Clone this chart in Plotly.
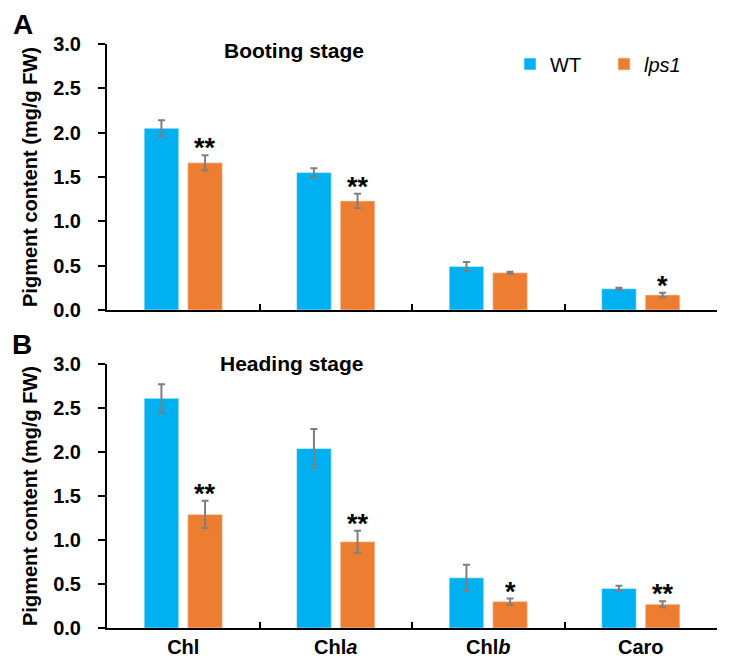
import plotly.graph_objects as go
from plotly.subplots import make_subplots

categories = ["Chl", "Chla", "Chlb", "Caro"]
tick_labels = ["<b>Chl</b>", "<b>Chl<i>a</i></b>", "<b>Chl<i>b</i></b>", "<b>Caro</b>"]

# Booting stage (panel A)
boot_wt = [2.05, 1.55, 0.49, 0.24]
boot_wt_err = [0.09, 0.05, 0.05, 0.01]
boot_lps1 = [1.66, 1.23, 0.42, 0.17]
boot_lps1_err = [0.085, 0.08, 0.01, 0.025]
boot_sig = ["**", "**", "", "*"]

# Heading stage (panel B)
head_wt = [2.61, 2.04, 0.57, 0.45]
head_wt_err = [0.16, 0.22, 0.15, 0.03]
head_lps1 = [1.29, 0.98, 0.30, 0.27]
head_lps1_err = [0.155, 0.125, 0.035, 0.035]
head_sig = ["**", "**", "*", "**"]

BLUE = "#00B0F0"
ORANGE = "#ED7D31"
GREY = "#7F7F7F"
FONT = "Arial, Liberation Sans, sans-serif"

# the page body has a default 8px margin, so the figure is drawn 8px in from the corner
OFF = 8
W, H = 734 - OFF, 665 - OFF
L, T = 107 - OFF, 44 - OFF
R = W - (717 - OFF)
B = H - (628 - OFF)
PH = H - T - B
PW = W - L - R


def px(x):
    return (x - OFF - L) / PW


def py(y):
    return (H - B - (y - OFF)) / PH


fig = make_subplots(rows=2, cols=1, shared_xaxes=False, vertical_spacing=0.09)

panels = [
    (boot_wt, boot_wt_err, boot_lps1, boot_lps1_err, boot_sig),
    (head_wt, head_wt_err, head_lps1, head_lps1_err, head_sig),
]

for r, (wt, wte, lp, lpe, sig) in enumerate(panels, start=1):
    fig.add_trace(go.Bar(
        x=categories, y=wt, name="WT", marker=dict(color=BLUE, line=dict(color="#DDF4FC", width=0.6)),
        error_y=dict(type="data", array=wte, color=GREY, thickness=2, width=3.5),
        showlegend=(r == 1), legendgroup="wt"), row=r, col=1)
    fig.add_trace(go.Bar(
        x=categories, y=lp, name="<i>lps1</i>", marker=dict(color=ORANGE, line=dict(color="#FBE3D3", width=0.6)),
        error_y=dict(type="data", array=lpe, color=GREY, thickness=2, width=3.5),
        showlegend=(r == 1), legendgroup="lps1"), row=r, col=1)
    xref = "x" if r == 1 else "x2"
    yref = "y" if r == 1 else "y2"
    for i, s in enumerate(sig):
        if s:
            fig.add_annotation(x=i + 0.143, y=lp[i] + lpe[i], xref=xref, yref=yref,
                               text="<b>%s</b>" % s, showarrow=False, yanchor="bottom",
                               yshift=-10, font=dict(size=27, color="black", family=FONT))

for r in (1, 2):
    fig.update_yaxes(range=[0, 3], dtick=0.5, tickformat=".1f", showgrid=False, zeroline=False,
                     showline=True, linecolor="black", linewidth=2, ticks="outside", ticklen=7,
                     tickwidth=2, tickcolor="black", ticklabelstandoff=13, automargin=False,
                     tickfont=dict(size=20, family=FONT, color="black", weight="bold"),
                     title=dict(text="<b>Pigment content </b><span style='font-size:20px'><b>(mg/g FW)</b></span>",
                                font=dict(size=20, family=FONT, color="black"), standoff=10),
                     row=r, col=1)
    fig.update_xaxes(type="category", showgrid=False, showline=True, linecolor="black", linewidth=2,
                     ticks="inside", tickson="boundaries", ticklen=6, tickwidth=2, tickcolor="black",
                     tickvals=categories, ticktext=tick_labels if r == 2 else [""] * 4,
                     tickfont=dict(size=20, family=FONT, color="black"), automargin=False,
                     row=r, col=1)

fig.update_layout(
    width=W, height=H,
    margin=dict(l=L, r=R, t=T, b=B, autoexpand=False),
    plot_bgcolor="white", paper_bgcolor="white",
    barmode="group", bargap=0.428, bargroupgap=0.207,
    font=dict(family=FONT, color="black"),
    legend=dict(orientation="h", x=px(510), y=py(64), xanchor="left", yanchor="middle",
                font=dict(size=20, family=FONT, color="black"), entrywidth=49,
                bgcolor="rgba(0,0,0,0)", itemwidth=30),
)
fig.update_yaxes(domain=[py(310), 1.0], row=1, col=1)
fig.update_yaxes(domain=[0.0, py(364)], row=2, col=1)

fig.add_annotation(x=px(294), y=py(50), xref="paper", yref="paper", text="<b>Booting stage</b>",
                   showarrow=False, xanchor="center", yanchor="middle",
                   font=dict(size=21, family=FONT, color="black"))
fig.add_annotation(x=px(292), y=py(363), xref="paper", yref="paper", text="<b>Heading stage</b>",
                   showarrow=False, xanchor="center", yanchor="middle",
                   font=dict(size=21, family=FONT, color="black"))
fig.add_annotation(x=px(23), y=py(24), xref="paper", yref="paper", text="<b>A</b>",
                   showarrow=False, xanchor="center", yanchor="middle", font=dict(size=28, family=FONT, color="black"))
fig.add_annotation(x=px(22), y=py(344), xref="paper", yref="paper", text="<b>B</b>",
                   showarrow=False, xanchor="center", yanchor="middle", font=dict(size=28, family=FONT, color="black"))

fig.write_html("out.html")
